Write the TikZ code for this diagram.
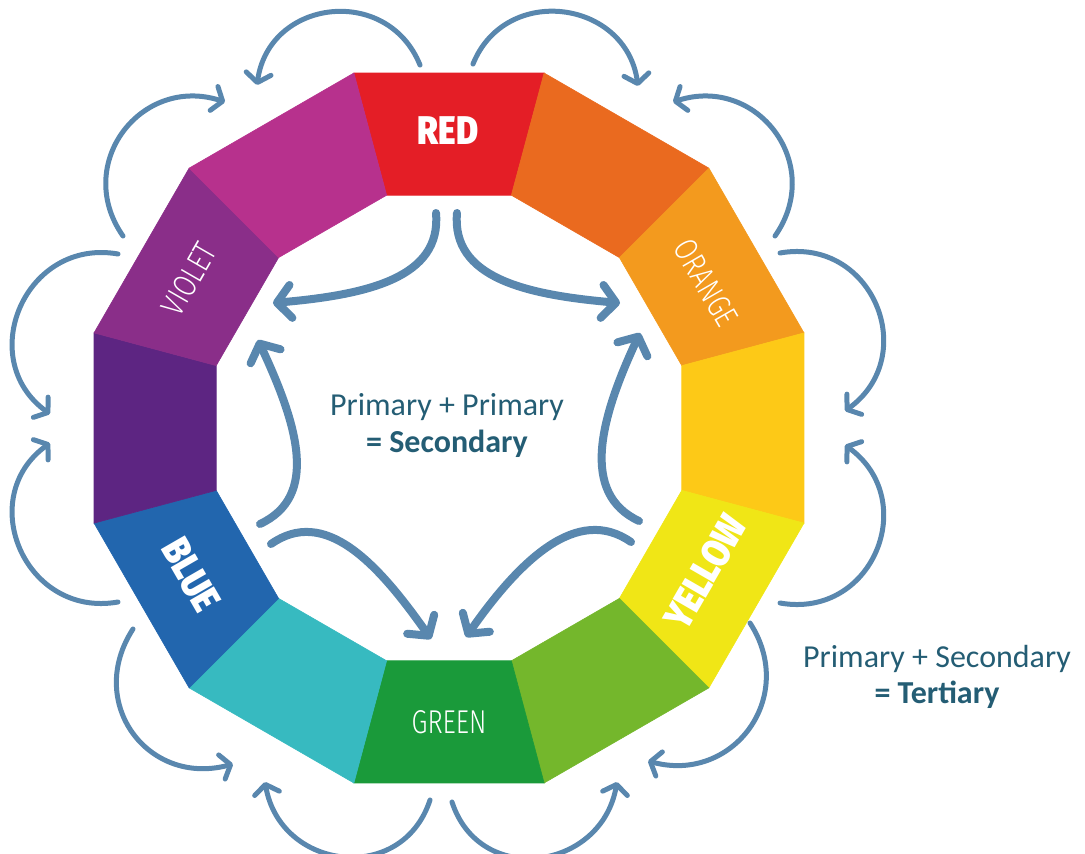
\documentclass[tikz,border=0pt]{standalone}
\usepackage{fontspec}
\setmainfont{Carlito}
\newfontfamily\labelheavy{Fira Sans}[UprightFont=* Black, FakeStretch=0.84]
\newfontfamily\labellight{Fira Sans}[UprightFont=* Light, FakeStretch=0.78]
\usetikzlibrary{arrows.meta}

\definecolor{cRed}{HTML}{E41E26}
\definecolor{cRedOrange}{HTML}{EA6A1F}
\definecolor{cOrange}{HTML}{F39A1E}
\definecolor{cYellowOrange}{HTML}{FDC917}
\definecolor{cYellow}{HTML}{F0E616}
\definecolor{cYellowGreen}{HTML}{74B72C}
\definecolor{cGreen}{HTML}{1A9A3A}
\definecolor{cBlueGreen}{HTML}{37BAC0}
\definecolor{cBlue}{HTML}{2266AE}
\definecolor{cBlueViolet}{HTML}{5D2582}
\definecolor{cViolet}{HTML}{8A2E89}
\definecolor{cRedViolet}{HTML}{B7318D}
\definecolor{arrowblue}{HTML}{5987AE}
\definecolor{textteal}{HTML}{245D74}

\begin{document}
\begin{tikzpicture}[x=1pt,y=1pt,
  seg/.style={fill=#1, draw=#1, line width=0.6pt, line join=miter},
  outerarrow/.style={draw=arrowblue, line width=5pt, line cap=round,
    -{Straight Barb[length=9pt,width=25pt,round]}},
  innerarrow/.style={draw=arrowblue, line width=8pt, line cap=round,
    -{Straight Barb[length=14pt,width=33pt,round]}},
  heavylabel/.style={text=white, font=\labelheavy\fontsize{40}{40}\selectfont, inner sep=0pt},
  lightlabel/.style={text=white, font=\labellight\fontsize{33}{33}\selectfont, inner sep=0pt},
  mixtext/.style={text=textteal, font=\fontsize{32}{36}\selectfont, inner sep=0pt, anchor=base}]

\path[use as bounding box] (0,0) rectangle (1085,-854);

% ring of twelve hues, red at the top, going clockwise
\begin{scope}[shift={(449,-428)}]
  \foreach \col [count=\k from 0] in {cRed,cRedOrange,cOrange,cYellowOrange,cYellow,cYellowGreen,cGreen,cBlueGreen,cBlue,cBlueViolet,cViolet,cRedViolet} {
    \pgfmathsetmacro\angA{105-30*\k}
    \pgfmathsetmacro\angB{75-30*\k}
    \path[seg=\col] (\angA:367.5) -- (\angB:367.5) -- (\angB:241) -- (\angA:241) -- cycle;
  }
\end{scope}

% hue names
\node[heavylabel] (lblred) at (448,-131) {RED};
\node[heavylabel, rotate=60] (lblyellow) at (705,-572) {YELLOW};
\node[heavylabel, rotate=-60] (lblblue) at (191,-575) {BLUE};
\node[lightlabel, rotate=-60] (lblorange) at (706,-283) {ORANGE};
\node[lightlabel, rotate=60] (lblviolet) at (189,-279) {VIOLET};
\node[lightlabel] (lblgreen) at (449,-722) {GREEN};

% captions
\node[mixtext] (secA) at (447,-415) {Primary + Primary};
\node[mixtext] (secB) at (447,-452) {\bfseries = Secondary};
\node[mixtext] (terA) at (937,-667) {Primary + Secondary};
\node[mixtext] (terB) at (937,-703) {\bfseries = Tertiary};

% outer arrows: ends of each arc
\coordinate (o1s) at (420,-65);   \coordinate (o1e) at (257,-85);
\coordinate (o2s) at (473,-64);   \coordinate (o2e) at (638,-86);
\coordinate (o3s) at (123,-236);  \coordinate (o3e) at (225,-102);
\coordinate (o4s) at (118,-254);  \coordinate (o4e) at (50,-414);
\coordinate (o5s) at (118,-602);  \coordinate (o5e) at (50,-443);
\coordinate (o6s) at (133,-629);  \coordinate (o6e) at (233,-764);
\coordinate (o7s) at (430,-800);  \coordinate (o7e) at (265,-782);
\coordinate (o8s) at (452,-802);  \coordinate (o8e) at (617,-782);
\coordinate (o9s) at (750,-623);  \coordinate (o9e) at (648,-761);
\coordinate (o10s) at (780,-603); \coordinate (o10e) at (845,-445);
\coordinate (o11s) at (780,-253); \coordinate (o11e) at (845,-411);
\coordinate (o12s) at (775,-236); \coordinate (o12e) at (673,-102);

\draw[outerarrow] (o1s) .. controls +(112:87) and +(82:87) .. (o1e);
\draw[outerarrow] (o2s) .. controls +(68:87) and +(98:87) .. (o2e);
\draw[outerarrow] (o3s) .. controls +(125:88) and +(162:88) .. (o3e);
\draw[outerarrow] (o4s) .. controls +(170:94) and +(144:94) .. (o4e);
\draw[outerarrow] (o5s) .. controls +(190:94) and +(216:94) .. (o5e);
\draw[outerarrow] (o6s) .. controls +(237:88) and +(195:88) .. (o6e);
\draw[outerarrow] (o7s) .. controls +(252:90) and +(280:90) .. (o7e);
\draw[outerarrow] (o8s) .. controls +(288:90) and +(260:90) .. (o8e);
\draw[outerarrow] (o9s) .. controls +(303:88) and +(345:88) .. (o9e);
\draw[outerarrow] (o10s) .. controls +(350:94) and +(324:94) .. (o10e);
\draw[outerarrow] (o11s) .. controls +(10:94) and +(36:94) .. (o11e);
\draw[outerarrow] (o12s) .. controls +(55:88) and +(18:88) .. (o12e);

% inner arrows: primaries mixing into secondaries
\coordinate (rvs) at (436,-213); \coordinate (rve) at (273,-303);
\coordinate (ros) at (457,-213); \coordinate (roe) at (620,-303);
\coordinate (bvs) at (260,-524); \coordinate (bve) at (258,-340);
\coordinate (bgs) at (271,-544); \coordinate (bge) at (431,-639);
\coordinate (yos) at (639,-521); \coordinate (yoe) at (640,-333);
\coordinate (ygs) at (631,-542); \coordinate (yge) at (466,-637);

\draw[innerarrow] (rvs) .. controls +(275:65) and +(5:95) .. (rve);
\draw[innerarrow] (ros) .. controls +(265:65) and +(175:95) .. (roe);
\draw[innerarrow] (bvs) .. controls +(25:65) and +(295:95) .. (bve);
\draw[innerarrow] (bgs) .. controls +(35:65) and +(125:95) .. (bge);
\draw[innerarrow] (yos) .. controls +(155:65) and +(245:95) .. (yoe);
\draw[innerarrow] (ygs) .. controls +(145:65) and +(55:95) .. (yge);
\end{tikzpicture}
\end{document}
